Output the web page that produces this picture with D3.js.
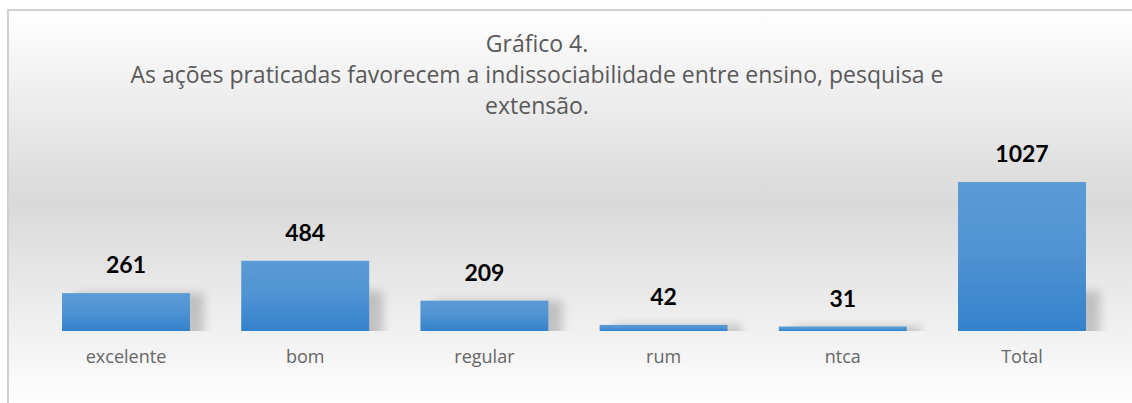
<!DOCTYPE html>
<html>
<head>
<meta charset="utf-8">
<script src="https://cdn.jsdelivr.net/npm/d3@7"></script>
<style>
  html, body { margin: 0; padding: 0; background: #fff; }
  svg { display: block; }
  .title { font-family: 'Open Sans', sans-serif; font-size: 23px; fill: #595959; }
  .cat { font-family: 'Open Sans', sans-serif; font-size: 18px; fill: #666; }
  .val { font-family: Lato, 'Open Sans', sans-serif; font-size: 23px; font-weight: bold; fill: #000; }
</style>
</head>
<body>
<svg width="1132" height="403"></svg>
<script>
var categories = ['excelente', 'bom', 'regular', 'rum', 'ntca', 'Total'];
var values = [261, 484, 209, 42, 31, 1027];
var titleLines = [
  'Gráfico 4.',
  'As ações praticadas favorecem a indissociabilidade entre ensino, pesquisa e',
  'extensão.'
];

var svg = d3.select('svg'),
  width = +svg.attr('width'),
  height = +svg.attr('height');

var baseline = 331;

var data = categories.map(function(c, i) { return { cat: c, value: values[i] }; });

var x = d3.scaleBand()
  .domain(categories)
  .range([36.4, 1111.6])
  .paddingInner(0.286)
  .paddingOuter(0.143);

var y = d3.scaleLinear()
  .domain([0, 1027])
  .range([baseline, 182]);

/* ---
DEFS
--- */
var defs = svg.append('defs');

var bg = defs.append('linearGradient')
  .attr('id', 'bg-grad')
  .attr('x1', 0).attr('y1', 0).attr('x2', 0).attr('y2', 1);
bg.append('stop').attr('offset', '0%').attr('stop-color', '#ffffff');
bg.append('stop').attr('offset', '48%').attr('stop-color', '#d9d9d9');
bg.append('stop').attr('offset', '100%').attr('stop-color', '#ffffff');

var barGrad = defs.append('linearGradient')
  .attr('id', 'bar-grad')
  .attr('x1', 0).attr('y1', 0).attr('x2', 0).attr('y2', 1);
barGrad.append('stop').attr('offset', '0%').attr('stop-color', '#5b9bd6');
barGrad.append('stop').attr('offset', '45%').attr('stop-color', '#5094d3');
barGrad.append('stop').attr('offset', '100%').attr('stop-color', '#3481cc');

defs.append('filter')
  .attr('id', 'shadow-blur')
  .attr('x', '-50%').attr('y', '-50%').attr('width', '200%').attr('height', '200%')
  .append('feGaussianBlur')
  .attr('stdDeviation', 5);

defs.append('clipPath')
  .attr('id', 'above-base')
  .append('rect')
  .attr('x', 0).attr('y', 0)
  .attr('width', width).attr('height', baseline);

/* ---
BACKGROUND
--- */
svg.append('rect')
  .attr('x', 8).attr('y', 10)
  .attr('width', width + 10).attr('height', 400)
  .attr('fill', 'url(#bg-grad)')
  .attr('stroke', '#d0d0d0')
  .attr('stroke-width', 2);

/* ---
TITLE
--- */
svg.append('text')
  .attr('class', 'title')
  .attr('text-anchor', 'middle')
  .selectAll('tspan')
  .data(titleLines)
  .enter()
  .append('tspan')
  .attr('x', 537)
  .attr('y', function(d, i) { return 52 + i * 31; })
  .text(function(d) { return d; });

/* ---
BARS
--- */
var shadows = svg.append('g')
  .attr('clip-path', 'url(#above-base)');

shadows.selectAll('rect')
  .data(data)
  .enter()
  .append('rect')
  .attr('x', function(d) { return x(d.cat) + 14; })
  .attr('y', function(d) { return baseline - Math.min(baseline - y(d.value), 40); })
  .attr('width', x.bandwidth())
  .attr('height', function(d) { return Math.min(baseline - y(d.value), 40) + 10; })
  .attr('fill', '#8c8c8c')
  .attr('opacity', 0.45)
  .attr('filter', 'url(#shadow-blur)');

svg.append('g')
  .selectAll('rect')
  .data(data)
  .enter()
  .append('rect')
  .attr('x', function(d) { return x(d.cat); })
  .attr('y', function(d) { return y(d.value); })
  .attr('width', x.bandwidth())
  .attr('height', function(d) { return baseline - y(d.value); })
  .attr('fill', 'url(#bar-grad)');

svg.append('g')
  .selectAll('text')
  .data(data)
  .enter()
  .append('text')
  .attr('class', 'val')
  .attr('text-anchor', 'middle')
  .attr('x', function(d) { return x(d.cat) + x.bandwidth() / 2; })
  .attr('y', function(d) { return y(d.value) - 20; })
  .text(function(d) { return d.value; });

/* ---
AXIS
--- */
var axis = svg.append('g')
  .attr('transform', 'translate(0,' + baseline + ')')
  .call(d3.axisBottom(x).tickSize(0).tickPadding(0));

axis.select('.domain').remove();
axis.selectAll('text')
  .attr('class', 'cat')
  .attr('dy', null)
  .attr('y', 32)
  .attr('fill', null);
axis.attr('font-family', null).attr('font-size', null);
</script>
</body>
</html>
